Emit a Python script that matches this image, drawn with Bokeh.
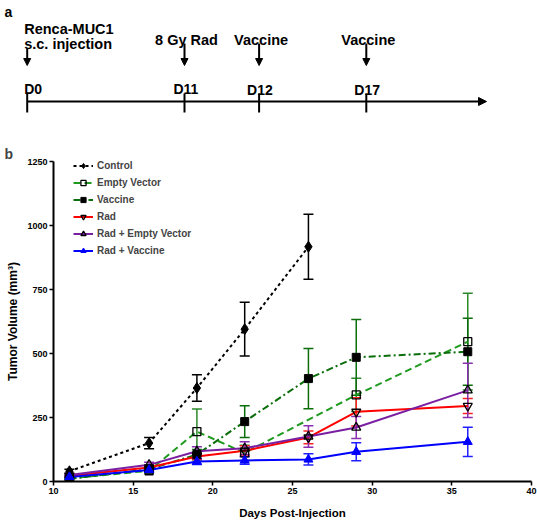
from bokeh.plotting import figure
from bokeh.models import Range1d, Arrow, NormalHead
from bokeh.core.properties import value
from bokeh.embed import file_html
from bokeh.resources import INLINE

FONT = "Liberation Sans"

# ---------------- data (panel b) ----------------
days_control = [11, 16, 19, 22, 26]
control = [40, 150, 365, 595, 917]
control_err = [8, 22, 52, 105, 127]

days_ev = [11, 16, 19, 22, 29, 36]
empty_vector = [12, 42, 195, 112, 338, 546]
empty_vector_err = [4, 8, 88, 30, 65, 189]

days_all = [11, 16, 19, 22, 26, 29, 36]
vaccine = [10, 48, 105, 234, 402, 485, 507]
vaccine_err = [4, 8, 20, 62, 118, 148, 131]

rad = [22, 55, 98, 120, 172, 272, 295]
rad_err = [4, 8, 12, 20, 25, 55, 29]

rad_ev = [25, 65, 118, 130, 176, 211, 356]
rad_ev_err = [5, 10, 18, 25, 42, 43, 106]

rad_vac = [18, 45, 78, 82, 86, 116, 155]
rad_vac_err = [4, 8, 12, 15, 22, 35, 57]

x_ticks = [10, 15, 20, 25, 30, 35, 40]
y_ticks = [0, 250, 500, 750, 1000, 1250]

# ---------------- panel a (schematic) ----------------
event_days = ["D0", "D11", "D12", "D17"]
event_names = ["8 Gy Rad", "Vaccine", "Vaccine"]
# layout (canvas pixel positions of schematic ticks)
event_px = [26.7, 184, 258.6, 365.8]

W = 537
HA = 143
pa = figure(width=W, height=HA, x_range=Range1d(0, W), y_range=Range1d(HA, 0),
            x_axis_type=None, y_axis_type=None, toolbar_location=None,
            output_backend="svg", min_border=0)
pa.grid.visible = False
pa.outline_line_color = None

# timeline
line_y = 101
pa.add_layout(Arrow(x_start=event_px[0], y_start=line_y, x_end=486, y_end=line_y,
                    line_width=2, line_color="black",
                    end=NormalHead(size=8, fill_color="black", line_color="black")))
pa.segment(x0=event_px, x1=event_px, y0=[93] * 4, y1=[112] * 4, line_width=2, line_color="black")

# day labels
pa.text(x=event_px, y=[88, 88, 89.5, 89.5], text=event_days,
        text_font=value(FONT), text_font_style="bold", text_font_size="14px",
        text_align="left", text_baseline="alphabetic", x_offset=[-3, -11, -12, -12])

# vertical arrows
arrow_tops = [48, 43, 43, 43]
for xp, yt in zip(event_px, arrow_tops):
    pa.add_layout(Arrow(x_start=xp, y_start=yt, x_end=xp, y_end=65, line_width=2,
                        line_color="black",
                        end=NormalHead(size=7, fill_color="black", line_color="black")))

# event labels
pa.text(x=[event_px[0] - 3], y=[28], text=["Renca-MUC1"], text_font=value(FONT),
        text_font_style="bold", text_font_size="14.5px", text_align="left",
        text_baseline="alphabetic")
pa.text(x=[event_px[0] - 3], y=[43.5], text=["s.c. injection"], text_font=value(FONT),
        text_font_style="bold", text_font_size="14.5px", text_align="left",
        text_baseline="alphabetic")
pa.text(x=[e + 2 for e in event_px[1:]], y=[39.5] * 3, text=event_names,
        text_font=value(FONT), text_font_style="bold", text_font_size="14.5px",
        text_align="center", text_baseline="alphabetic")
pa.text(x=[4], y=[11], text=["a"], text_font=value(FONT), text_font_style="bold",
        text_font_size="14px", text_align="left", text_baseline="alphabetic")

# ---------------- panel b (chart) ----------------
pb = figure(width=W, height=528 - HA, x_range=Range1d(10, 40), y_range=Range1d(0, 1250),
            toolbar_location=None, output_backend="svg",
            min_border_left=53, min_border_right=6, min_border_top=16, min_border_bottom=47)
pb.grid.visible = False
pb.outline_line_color = None
pb.title.text = "b"
pb.title.align = "left"
pb.title.offset = -49
pb.title.standoff = 0
pb.title.text_font = FONT
pb.title.text_font_style = "bold"
pb.title.text_font_size = "14px"

for ax in (pb.xaxis[0], pb.yaxis[0]):
    ax.axis_line_width = 2
    ax.axis_line_color = "black"
    ax.major_tick_out = 4
    ax.major_tick_in = 0
    ax.major_tick_line_width = 1.5
    ax.minor_tick_out = 0
    ax.minor_tick_in = 0
    ax.major_label_text_font = FONT
    ax.major_label_text_font_style = "bold"
    ax.major_label_text_font_size = "9px"
    ax.major_label_text_color = "black"
    ax.axis_label_text_font = FONT
    ax.axis_label_text_font_style = "bold"
    ax.axis_label_text_color = "black"

pb.xaxis.ticker = x_ticks
pb.yaxis.ticker = y_ticks
pb.xaxis.major_label_standoff = 2
pb.yaxis.major_label_standoff = 2
pb.xaxis.axis_label = "Days Post-Injection"
pb.yaxis.axis_label = "Tumor Volume (mm³)"
pb.xaxis.axis_label_text_font_size = "11.5px"
pb.yaxis.axis_label_text_font_size = "12px"
pb.xaxis.axis_label_standoff = 10
pb.yaxis.axis_label_standoff = 4

series = [
    ("Control", days_control, control, control_err, "black", "black", "3 3", "diamond", "black", 11),
    ("Empty Vector", days_ev, empty_vector, empty_vector_err, "#1f9a1f", "#2a8a2a", "7 4", "square", None, 8),
    ("Vaccine", days_all, vaccine, vaccine_err, "#0b6e0b", "#0b6e0b", "7 3 2 3", "square", "black", 8),
    ("Rad", days_all, rad, rad_err, "#ff0000", "#ff2020", "solid", "inverted_triangle", None, 9),
    ("Rad + Empty Vector", days_all, rad_ev, rad_ev_err, "#7a1fa2", "#8a2fb2", "solid", "triangle", None, 9),
    ("Rad + Vaccine", days_all, rad_vac, rad_vac_err, "#0000ff", "#2020ff", "solid", "triangle", "#0000ff", 9),
]

# error bars first
for name, xs, ys, es, col, ecol, dash, mk, fill, sz in series:
    lo = [y - e for y, e in zip(ys, es)]
    hi = [y + e for y, e in zip(ys, es)]
    pb.segment(x0=xs, x1=xs, y0=lo, y1=hi, line_color=ecol, line_width=1.5)
    pb.scatter(x=xs + xs, y=lo + hi, marker="dash", size=10, line_color=ecol, line_width=1.5)

for name, xs, ys, es, col, ecol, dash, mk, fill, sz in series:
    pb.line(xs, ys, line_color=col, line_width=2, line_dash=dash, legend_label=name)

for name, xs, ys, es, col, ecol, dash, mk, fill, sz in series:
    mcol = "#0000ff" if name == "Rad + Vaccine" else "black"
    if fill is None:
        pb.scatter(xs, ys, marker=mk, size=sz, line_color=mcol, line_width=1.3,
                   fill_color="white", fill_alpha=0.0, legend_label=name)
    else:
        pb.scatter(xs, ys, marker=mk, size=sz, line_color=mcol, fill_color=fill,
                   legend_label=name)

lg = pb.legend[0]
lg.location = (20, 224)
lg.border_line_color = None
lg.background_fill_alpha = 0
lg.padding = 0
lg.margin = 0
lg.spacing = 4
lg.glyph_height = 13
lg.glyph_width = 20
lg.label_height = 13
lg.label_standoff = 4
lg.label_text_font = FONT
lg.label_text_font_style = "bold"
lg.label_text_font_size = "10px"

open("out.html", "w").write(file_html([pa, pb], INLINE))
